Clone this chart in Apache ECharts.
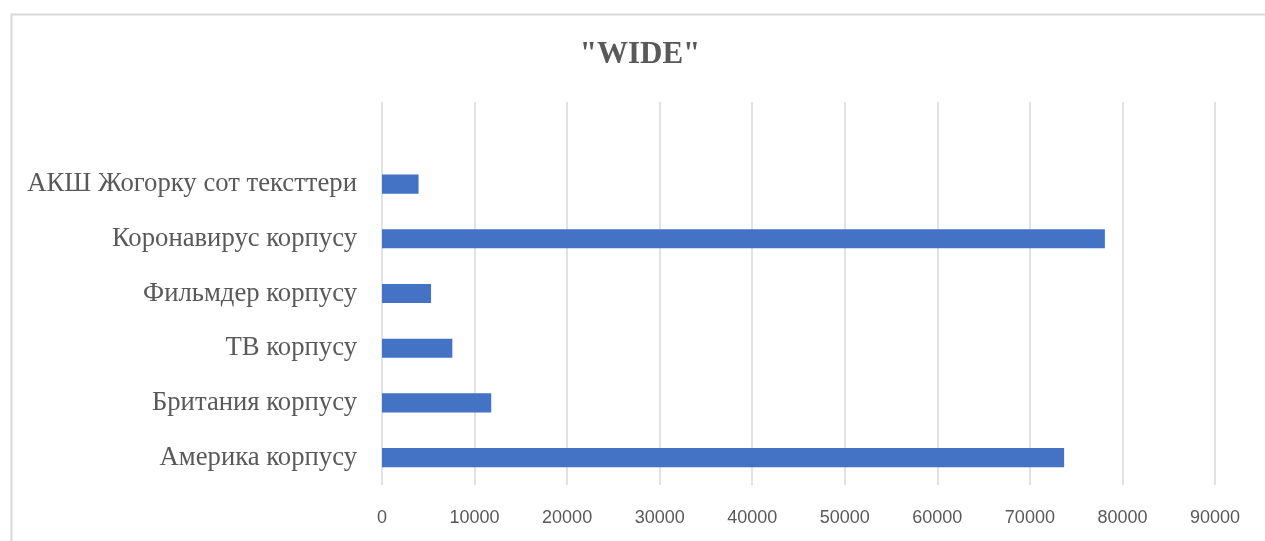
<!DOCTYPE html>
<html>
<head>
<meta charset="utf-8">
<script src="https://cdn.jsdelivr.net/npm/echarts@6/dist/echarts.min.js"></script>
<style>html,body{margin:0;padding:0;background:#fff;}#c{width:1265px;height:541px;}</style>
</head>
<body>
<div id="c"></div>
<script>
const categories = ["Америка корпусу", "Британия корпусу", "ТВ корпусу", "Фильмдер корпусу", "Коронавирус корпусу", "АКШ Жогорку сот тексттери", ""];
const values = [73700, 11800, 7600, 5300, 78100, 3950, null];
const xTicks = [0, 10000, 20000, 30000, 40000, 50000, 60000, 70000, 80000, 90000];
const titleText = '"WIDE"';

const chart = echarts.init(document.getElementById('c'), null, {renderer: 'canvas'});
chart.setOption({
  animation: false,
  backgroundColor: '#fff',
  graphic: [{
    type: 'rect', left: 9, top: 12, z: -1,
    shape: {width: 1400, height: 700},
    style: {fill: 'none', stroke: '#d9d9d9', lineWidth: 2}
  }],
  title: {
    text: titleText, left: 635, textAlign: 'center', top: 34,
    textStyle: {fontFamily: 'Liberation Serif', fontWeight: 'bold', fontSize: 31, color: '#595959'}
  },
  grid: {left: 382, right: 50, top: 102, bottom: 56, containLabel: false},
  xAxis: {
    type: 'value', min: xTicks[0], max: xTicks[xTicks.length - 1], interval: 10000,
    axisLine: {show: false}, axisTick: {show: false},
    splitLine: {show: true, lineStyle: {color: '#d9d9d9', width: 1.5}},
    axisLabel: {margin: 24, fontFamily: 'Liberation Sans', fontSize: 18, color: '#595959',
      formatter: function (v) { return String(v); }}
  },
  yAxis: {
    type: 'category', data: categories,
    axisLine: {show: false}, axisTick: {show: false},
    axisLabel: {margin: 25, fontFamily: 'Liberation Serif', fontSize: 26.7, color: '#595959'}
  },
  series: [{
    type: 'bar', data: values, barWidth: '35%',
    itemStyle: {color: '#4472C4'}
  }]
});
</script>
</body>
</html>
